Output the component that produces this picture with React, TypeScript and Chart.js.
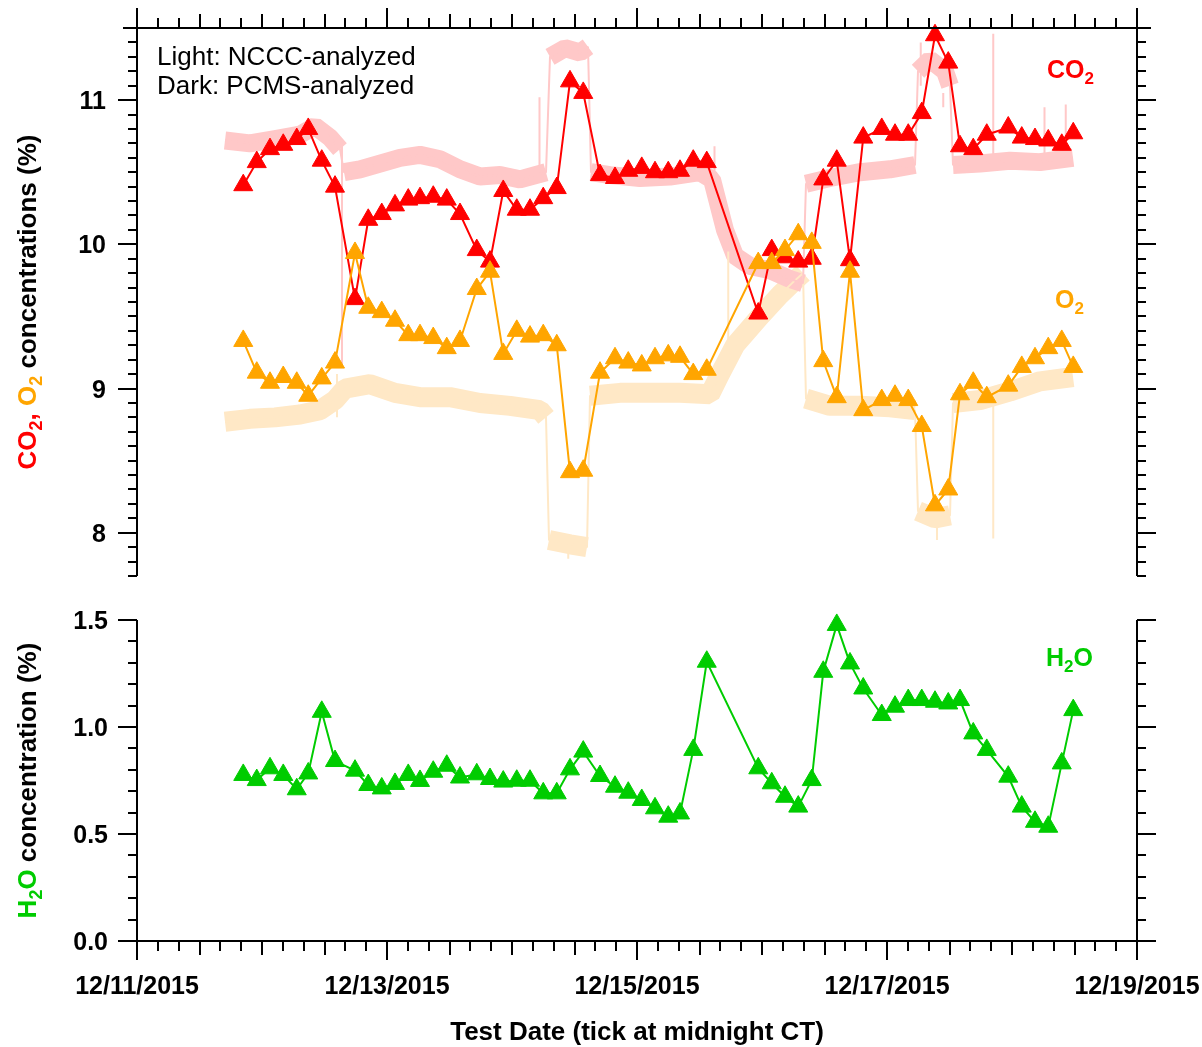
import React, { useEffect, useRef } from "react";
import { Chart, registerables } from "chart.js";

Chart.register(...registerables);

// ---------------- data ----------------
// x values are days after 12/11/2015 00:00 CT
const xTickDays = [0, 2, 4, 6, 8];
const xTickLabels = ["12/11/2015", "12/13/2015", "12/15/2015", "12/17/2015", "12/19/2015"];
const topYTickValues = [8, 9, 10, 11];
const topYTickLabels = ["8", "9", "10", "11"];
const bottomYTickValues = [0, 0.5, 1.0, 1.5];
const bottomYTickLabels = ["0.0", "0.5", "1.0", "1.5"];

// PCMS-analyzed (dark) samples
const sampleDays = [
  0.85, 0.958, 1.064, 1.17, 1.278, 1.37, 1.478, 1.584,
  1.744, 1.85, 1.958, 2.064, 2.17, 2.264, 2.37, 2.478, 2.584,
  2.718, 2.824, 2.93, 3.038, 3.144, 3.25, 3.358, 3.464, 3.57,
  3.704, 3.824, 3.93, 4.038, 4.144, 4.25, 4.344, 4.45, 4.558,
  4.97, 5.078, 5.184, 5.29, 5.398, 5.49, 5.598, 5.704, 5.81,
  5.958, 6.064, 6.17, 6.278, 6.384, 6.49, 6.584, 6.69, 6.798,
  6.97, 7.078, 7.184, 7.29, 7.398, 7.49,
];
const co2Pcms = [
  10.41, 10.57, 10.66, 10.69, 10.73, 10.80, 10.58, 10.40,
  9.62, 10.17, 10.21, 10.27, 10.31, 10.32, 10.33, 10.31, 10.21,
  9.96, 9.88, 10.37, 10.24, 10.24, 10.32, 10.39, 11.13, 11.05,
  10.48, 10.46, 10.51, 10.53, 10.50, 10.50, 10.51, 10.58, 10.57,
  9.52, 9.96, 9.91, 9.88, 9.90, 10.45, 10.58, 9.89, 10.74,
  10.80, 10.76, 10.76, 10.91, 11.45, 11.26, 10.68, 10.66, 10.76,
  10.81, 10.74, 10.73, 10.72, 10.69, 10.77,
];
const o2Pcms = [
  9.33, 9.11, 9.04, 9.08, 9.04, 8.95, 9.07, 9.18,
  9.94, 9.56, 9.53, 9.47, 9.37, 9.37, 9.35, 9.28, 9.33,
  9.69, 9.81, 9.24, 9.40, 9.36, 9.37, 9.30, 8.42, 8.43,
  9.11, 9.21, 9.18, 9.16, 9.21, 9.23, 9.22, 9.10, 9.13,
  9.87, 9.87, 9.96, 10.07, 10.01, 9.19, 8.94, 9.81, 8.85,
  8.92, 8.95, 8.92, 8.74, 8.19, 8.30, 8.96, 9.04, 8.94,
  9.02, 9.15, 9.21, 9.28, 9.33, 9.15,
];
const h2oPcms = [
  0.776, 0.752, 0.807, 0.776, 0.709, 0.783, 1.071, 0.841,
  0.796, 0.729, 0.713, 0.734, 0.776, 0.748, 0.791, 0.819, 0.764,
  0.779, 0.757, 0.745, 0.749, 0.749, 0.690, 0.690, 0.802, 0.885,
  0.771, 0.721, 0.693, 0.659, 0.620, 0.581, 0.596, 0.893, 1.305,
  0.807, 0.737, 0.674, 0.628, 0.752, 1.258, 1.477, 1.297, 1.180,
  1.056, 1.095, 1.126, 1.126, 1.118, 1.110, 1.126, 0.970, 0.893,
  0.768, 0.628, 0.557, 0.534, 0.830, 1.079,
];

// NCCC-analyzed (light) traces, read as the centre of the noisy band;
// null marks a sudden step (drawn only as a thin line)
const ncccCo2Days = [
  0.704, 0.904, 1.104, 1.304, 1.424, 1.544, 1.624, 1.64, 1.656, 1.784, 1.944,
  2.104, 2.264, 2.424, 2.584, 2.744, 2.904, 3.064, 3.272, 3.288, 3.304, 3.424,
  3.544, 3.608, 3.62, 3.632, 3.784, 4.024, 4.264, 4.504, 4.6, 4.704, 4.784,
  4.904, 5.064, 5.224, 5.328, 5.34, 5.352, 5.544, 5.784, 6.024, 6.224, 6.236, 6.248,
  6.344, 6.464, 6.504, 6.516, 6.528, 6.744, 6.984, 7.224, 7.488,
];
const ncccCo2Values: (number | null)[] = [
  10.72, 10.70, 10.73, 10.76, 10.82, 10.74, 10.66, null, 10.50, 10.52, 10.56,
  10.60, 10.62, 10.59, 10.52, 10.47, 10.48, 10.45, 10.50, null, 11.30, 11.36,
  11.33, 11.37, null, 10.50, 10.48, 10.46, 10.47, 10.50, 10.45, 10.10, 9.92,
  9.85, 9.82, 9.76, 9.73, null, 10.42, 10.46, 10.50, 10.52, 10.55, null, 11.20,
  11.28, 11.20, 11.10, null, 10.55, 10.56, 10.58, 10.57, 10.60,
];
const ncccO2Days = [
  0.704, 0.904, 1.104, 1.304, 1.464, 1.584, 1.664, 1.864, 2.064, 2.264,
  2.504, 2.744, 2.984, 3.224, 3.272, 3.284, 3.296, 3.464, 3.6, 3.612, 3.624, 3.864,
  4.104, 4.344, 4.584, 4.664, 4.784, 4.984, 5.144, 5.264, 5.328, 5.34, 5.352,
  5.544, 5.784, 6.024, 6.224, 6.236, 6.248, 6.384, 6.504, 6.516, 6.528, 6.744, 6.984,
  7.224, 7.488,
];
const ncccO2Values: (number | null)[] = [
  8.77, 8.79, 8.80, 8.82, 8.85, 8.92, 9.00, 9.03, 8.97, 8.94,
  8.94, 8.90, 8.88, 8.85, 8.80, null, 7.95, 7.92, 7.90, null, 8.95, 8.97,
  8.97, 8.97, 8.96, 9.10, 9.30, 9.50, 9.65, 9.75, 9.80, null, 8.93,
  8.88, 8.88, 8.87, 8.85, null, 8.15, 8.10, 8.12, null, 8.90, 8.92, 8.98,
  9.05, 9.08,
];
const ncccCo2SpikeDays = [1.64, 3.22, 6.85, 7.26, 7.43, 4.62, 6.27, 6.45];
const ncccCo2SpikeFrom = [10.70, 10.50, 10.55, 10.60, 10.60, 10.45, 11.10, 11.05];
const ncccCo2SpikeTo = [9.15, 11.02, 11.46, 10.95, 10.97, 10.68, 11.40, 10.95];
const ncccO2SpikeDays = [6.85, 1.6, 4.73, 3.45, 6.4];
const ncccO2SpikeFrom = [8.90, 8.80, 9.20, 7.95, 8.12];
const ncccO2SpikeTo = [7.96, 9.10, 9.95, 7.82, 7.95];

// ---------------- helpers ----------------
const RED = "#ff0000";
const ORANGE = "#ffa500";
const GREEN = "#00cc00";
const PINK = "#ffc8c8";
const PALE_ORANGE = "#ffe8c6";
const FONT = '"Liberation Sans", Arial, sans-serif';

const pts = (xs: number[], ys: (number | null)[]) => xs.map((x, i) => ({ x, y: ys[i] }));
const ptsNoGaps = (xs: number[], ys: (number | null)[]) =>
  xs.map((x, i) => ({ x, y: ys[i] })).filter((p) => p.y !== null);
const spikes = (xs: number[], a: number[], b: number[]) => {
  const out: { x: number; y: number | null }[] = [];
  xs.forEach((x, i) => {
    out.push({ x, y: a[i] }, { x, y: b[i] }, { x, y: null });
  });
  return out;
};

type Seg = { text: string; color: string; sub?: boolean };
function drawRich(
  ctx: CanvasRenderingContext2D,
  segs: Seg[],
  x: number,
  y: number,
  align: "left" | "center",
  rotate: boolean,
  size = 25
) {
  const mainFont = `bold ${size}px ${FONT}`;
  const subFont = `bold ${Math.round(size * 0.68)}px ${FONT}`;
  ctx.save();
  ctx.translate(x, y);
  if (rotate) ctx.rotate(-Math.PI / 2);
  ctx.textAlign = "left";
  ctx.textBaseline = "alphabetic";
  let total = 0;
  const widths = segs.map((s) => {
    ctx.font = s.sub ? subFont : mainFont;
    const w = ctx.measureText(s.text).width;
    total += w;
    return w;
  });
  let cx = align === "center" ? -total / 2 : 0;
  segs.forEach((s, i) => {
    ctx.font = s.sub ? subFont : mainFont;
    ctx.fillStyle = s.color;
    ctx.fillText(s.text, cx, s.sub ? Math.round(size * 0.24) : 0);
    cx += widths[i];
  });
  ctx.restore();
}

function seg(ctx: CanvasRenderingContext2D, x1: number, y1: number, x2: number, y2: number) {
  ctx.beginPath();
  ctx.moveTo(x1, y1);
  ctx.lineTo(x2, y2);
  ctx.stroke();
}

const topAxesPlugin = {
  id: "topAxes",
  afterDraw(chart: any) {
    const ctx: CanvasRenderingContext2D = chart.ctx;
    const xs = chart.scales.x;
    const ys = chart.scales.y;
    const { left, right, top, bottom } = chart.chartArea;
    ctx.save();
    ctx.strokeStyle = "#000";
    ctx.lineWidth = 2;
    seg(ctx, left, top, left, bottom);
    seg(ctx, right, top, right, bottom);
    seg(ctx, left - 14, top, right + 14, top);
    for (let k = 0; k <= 48; k++) {
      const px = Math.round(xs.getPixelForValue(k / 6));
      const len = k % 12 === 0 ? 20 : k % 3 === 0 ? 14 : 10;
      seg(ctx, px, top, px, top - len);
    }
    for (let i = 77; i <= 115; i++) {
      const py = Math.round(ys.getPixelForValue(i / 10));
      const len = i % 10 === 0 ? 19 : 9;
      seg(ctx, left - len, py, left, py);
      seg(ctx, right, py, right + len, py);
    }
    ctx.fillStyle = "#000";
    ctx.font = `bold 25px ${FONT}`;
    ctx.textAlign = "right";
    ctx.textBaseline = "alphabetic";
    topYTickValues.forEach((v, i) => {
      ctx.fillText(topYTickLabels[i], left - 31, ys.getPixelForValue(v) + 9);
    });
    // annotation
    ctx.font = `26px ${FONT}`;
    ctx.textAlign = "left";
    ctx.fillText("Light: NCCC-analyzed", 157, 65);
    ctx.fillText("Dark: PCMS-analyzed", 157, 94);
    // series labels
    drawRich(ctx, [{ text: "CO", color: RED }, { text: "2", color: RED, sub: true }], 1047, 78, "left", false);
    drawRich(ctx, [{ text: "O", color: ORANGE }, { text: "2", color: ORANGE, sub: true }], 1055, 308, "left", false);
    // y title
    drawRich(
      ctx,
      [
        { text: "CO", color: RED },
        { text: "2", color: RED, sub: true },
        { text: ", ", color: RED },
        { text: "O", color: ORANGE },
        { text: "2", color: ORANGE, sub: true },
        { text: " concentrations (%)", color: "#000" },
      ],
      36,
      (top + bottom) / 2,
      "center",
      true,
      26
    );
    ctx.restore();
  },
};

const bottomAxesPlugin = {
  id: "bottomAxes",
  afterDraw(chart: any) {
    const ctx: CanvasRenderingContext2D = chart.ctx;
    const xs = chart.scales.x;
    const ys = chart.scales.y;
    const { left, right, top, bottom } = chart.chartArea;
    ctx.save();
    ctx.strokeStyle = "#000";
    ctx.lineWidth = 2;
    seg(ctx, left, top, left, bottom);
    seg(ctx, right, top, right, bottom);
    seg(ctx, left, bottom, right, bottom);
    for (let k = 0; k <= 48; k++) {
      const px = Math.round(xs.getPixelForValue(k / 6));
      const len = k % 12 === 0 ? 19 : k % 3 === 0 ? 14 : 10;
      seg(ctx, px, bottom, px, bottom + len);
    }
    for (let i = 0; i <= 15; i++) {
      const py = Math.round(ys.getPixelForValue(i / 10));
      const len = i % 5 === 0 ? 19 : 9;
      seg(ctx, left - len, py, left, py);
      seg(ctx, right, py, right + len, py);
    }
    ctx.fillStyle = "#000";
    ctx.font = `bold 25px ${FONT}`;
    ctx.textAlign = "right";
    ctx.textBaseline = "alphabetic";
    bottomYTickValues.forEach((v, i) => {
      ctx.fillText(bottomYTickLabels[i], left - 29, ys.getPixelForValue(v) + 9);
    });
    ctx.textAlign = "center";
    xTickDays.forEach((d, i) => {
      ctx.fillText(xTickLabels[i], xs.getPixelForValue(d), 994);
    });
    drawRich(ctx, [{ text: "Test Date (tick at midnight CT)", color: "#000" }], (left + right) / 2, 1040, "center", false, 26);
    drawRich(
      ctx,
      [{ text: "H", color: GREEN }, { text: "2", color: GREEN, sub: true }, { text: "O", color: GREEN }],
      1046,
      666,
      "left",
      false
    );
    drawRich(
      ctx,
      [
        { text: "H", color: GREEN },
        { text: "2", color: GREEN, sub: true },
        { text: "O", color: GREEN },
        { text: " concentration (%)", color: "#000" },
      ],
      36,
      (top + bottom) / 2,
      "center",
      true,
      26
    );
    ctx.restore();
  },
};

const W = 1202;
const H = 1047;

function baseOptions(xMin: number, xMax: number, yMin: number, yMax: number, pad: any) {
  return {
    responsive: false,
    animation: false as const,
    events: [] as any[],
    layout: { padding: pad },
    plugins: { legend: { display: false }, tooltip: { enabled: false } },
    scales: {
      x: { type: "linear" as const, min: xMin, max: xMax, display: false },
      y: { type: "linear" as const, min: yMin, max: yMax, display: false },
    },
  };
}

function dark(data: any, color: string, order: number) {
  return {
    data,
    borderColor: color,
    backgroundColor: color,
    borderWidth: 2,
    pointStyle: "triangle",
    pointRadius: 11,
    pointBorderWidth: 1,
    pointBorderColor: color,
    pointBackgroundColor: color,
    tension: 0,
    clip: false,
    order,
  };
}

function band(data: any, color: string, width: number, order: number) {
  return {
    data,
    borderColor: color,
    borderWidth: width,
    pointRadius: 0,
    tension: 0,
    borderJoinStyle: "bevel",
    borderCapStyle: "butt",
    spanGaps: false,
    order,
  };
}

export default function App() {
  const topRef = useRef<HTMLCanvasElement | null>(null);
  const botRef = useRef<HTMLCanvasElement | null>(null);

  useEffect(() => {
    const top = new Chart(topRef.current as HTMLCanvasElement, {
      type: "line",
      data: {
        datasets: [
          dark(pts(sampleDays, o2Pcms), ORANGE, 0),
          dark(pts(sampleDays, co2Pcms), RED, 1),
          band(spikes(ncccCo2SpikeDays, ncccCo2SpikeFrom, ncccCo2SpikeTo), PINK, 2, 2),
          band(spikes(ncccO2SpikeDays, ncccO2SpikeFrom, ncccO2SpikeTo), PALE_ORANGE, 2, 3),
          band(ptsNoGaps(ncccCo2Days, ncccCo2Values), PINK, 2, 4),
          band(ptsNoGaps(ncccO2Days, ncccO2Values), PALE_ORANGE, 2, 5),
          band(pts(ncccCo2Days, ncccCo2Values), PINK, 18, 6),
          band(pts(ncccO2Days, ncccO2Values), PALE_ORANGE, 20, 7),
        ] as any,
      },
      options: baseOptions(0, 8, 7.7, 11.5, { left: 137, top: 28, right: W - 1137, bottom: H - 576 }) as any,
      plugins: [topAxesPlugin],
    });
    const bot = new Chart(botRef.current as HTMLCanvasElement, {
      type: "line",
      data: {
        datasets: [dark(pts(sampleDays, h2oPcms), GREEN, 0)] as any,
      },
      options: baseOptions(0, 8, 0, 1.5, { left: 137, top: 620, right: W - 1137, bottom: H - 941 }) as any,
      plugins: [bottomAxesPlugin],
    });
    return () => {
      top.destroy();
      bot.destroy();
    };
  }, []);

  const cs: React.CSSProperties = { position: "absolute", left: 0, top: 0, width: W, height: H };
  return (
    <div style={{ position: "absolute", left: 0, top: 0, width: W, height: H, background: "#fff" }}>
      <canvas ref={topRef} width={W} height={H} style={cs} />
      <canvas ref={botRef} width={W} height={H} style={cs} />
    </div>
  );
}
